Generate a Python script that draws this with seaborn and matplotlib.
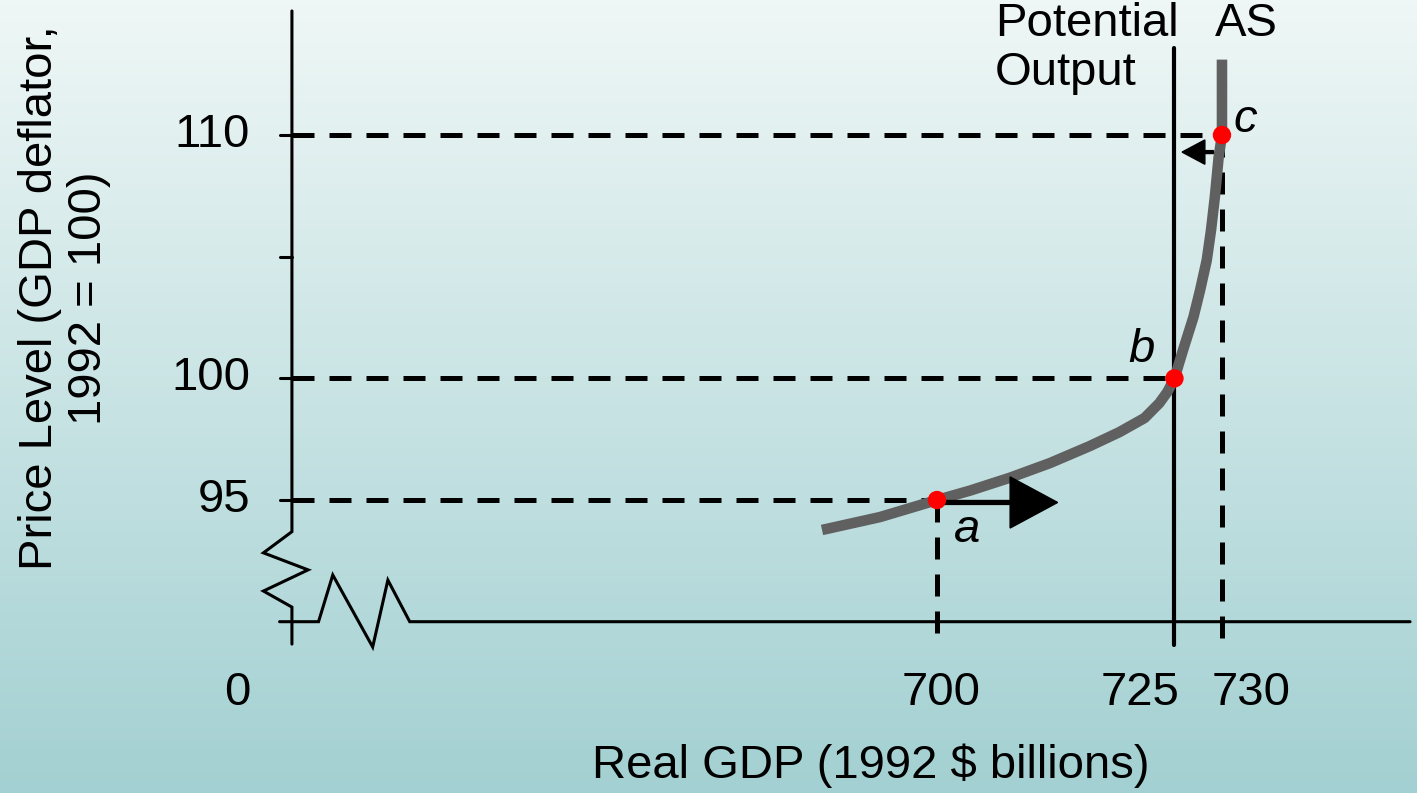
#!/usr/bin/env python3
# aggregate supply curve with points a, b, c

import numpy as np
import pandas as pd
import seaborn as sns
import matplotlib.pyplot as plt
from matplotlib.colors import LinearSegmentedColormap

# Data -------------------------------------------------------------------------

# AS curve (real GDP, price level)
as_gdp = [687.9, 694.0, 700.0, 703.5, 707.7, 711.9, 716.1, 719.2, 721.85,
          723.4, 724.25, 725.0, 725.9, 727.0, 727.7, 728.4, 728.85, 729.25,
          729.65, 730.0, 730.0]
as_price = [93.77, 94.30, 95.0, 95.39, 95.92, 96.52, 97.22, 97.79, 98.37,
            98.98, 99.44, 100.0, 101.16, 102.52, 103.63, 104.86, 106.10,
            107.45, 109.09, 110.0, 113.1]

point_names = ['a', 'b', 'c']
point_gdp = [700, 725, 730]
point_price = [95, 100, 110]

potential_gdp = 725
y_ticks = [95, 100, 110]
y_minor = [105]
x_ticks = [700, 725, 730]

# axis origin (broken axes)
x0 = 632.1
y0 = 90.0


def main():
    sns.set_theme(style='white')
    plt.rcParams['font.family'] = ['Liberation Sans', 'DejaVu Sans']
    plt.rcParams['text.color'] = 'black'

    fig = plt.figure(figsize=(14.17, 7.93), dpi=100)
    ax = fig.add_axes([0, 0, 1, 1])

    # background gradient
    cmap = LinearSegmentedColormap.from_list('bg', ['#a3d0d2', '#eff7f6'])
    grad = np.linspace(0, 1, 256).reshape(-1, 1)
    ax.imshow(grad, extent=[0, 1, 0, 1], transform=ax.transAxes,
              aspect='auto', cmap=cmap, origin='lower', zorder=0)

    # axes with break marks
    ax.plot([x0, x0, 629.1, 633.8, 629.1, x0, x0],
            [115.1, 93.7, 92.83, 92.13, 91.26, 90.6, 89.08],
            color='black', lw=2.2, zorder=3, solid_joinstyle='miter')
    ax.plot([630.8, 634.9, 636.4, 640.6, 642.2, 644.5, 749.8],
            [y0, y0, 91.92, 88.96, 91.71, y0, y0],
            color='black', lw=2.2, zorder=3, solid_joinstyle='miter')
    for t in y_ticks + y_minor:
        ax.plot([630.8, x0], [t, t], color='black', lw=2.2, zorder=3)

    # dashed guide lines
    dash = dict(color='black', lw=3.6, dashes=(4.4, 3.0), zorder=2)
    for gx, py in zip(point_gdp, point_price):
        ax.plot([x0, gx], [py, py], **dash)
    for gx, py in zip(point_gdp[::2], point_price[::2]):
        ax.plot([gx, gx], [py, 89.03], **dash)

    # potential output
    ax.plot([potential_gdp, potential_gdp], [113.57, 89.03],
            color='black', lw=3.0, zorder=4)

    # AS curve
    curve = pd.DataFrame({'gdp': as_gdp, 'price': as_price})
    sns.lineplot(data=curve, x='gdp', y='price', sort=False, estimator=None,
                 color='#606060', linewidth=7.6, ax=ax, zorder=5,
                 solid_capstyle='butt', solid_joinstyle='round')

    # arrows
    ax.arrow(700, 94.9, 12.7, 0, width=0.16, head_width=2.1, head_length=5.0,
             length_includes_head=True, color='black', zorder=6)
    ax.arrow(729.1, 109.3, -3.3, 0, width=0.12, head_width=1.0,
             head_length=2.4, length_includes_head=True, color='black',
             zorder=6)

    # points
    pts = pd.DataFrame({'gdp': point_gdp, 'price': point_price})
    sns.scatterplot(data=pts, x='gdp', y='price', color='#ff0000', s=175,
                    edgecolor='none', ax=ax, zorder=7)

    fs = 34
    for i, (dx, dy) in enumerate(((3.2, -1.24), (-3.5, 1.16), (2.5, 0.6))):
        ax.text(point_gdp[i] + dx, point_price[i] + dy, point_names[i],
                fontsize=fs, style='italic', ha='center', va='center',
                zorder=8)

    # tick labels
    for t in y_ticks:
        ax.text(627.7, t, str(t), fontsize=fs, ha='right', va='center')
    for t, off in zip(x_ticks, (0.4, -3.6, 3.1)):
        ax.text(t + off, 87.07, str(t), fontsize=fs, ha='center', va='center')
    ax.text(626.4, 87.07, '0', fontsize=fs, ha='center', va='center')

    ax.text(706.1, 115.45, 'Potential\nOutput', fontsize=fs, ha='left',
            va='top', linespacing=1.12)
    ax.text(729.3, 115.45, 'AS', fontsize=fs, ha='left', va='top')

    ax.text(693.0, 84.1, 'Real GDP (1992 $ billions)', fontsize=fs,
            ha='center', va='center')
    ax.text(608.2, 103.3, 'Price Level (GDP deflator,\n1992 = 100)',
            fontsize=fs, ha='center', va='center', rotation=90,
            multialignment='center', linespacing=1.15)

    ax.set_xlim(601.37, 750.53)
    ax.set_ylim(82.96, 115.55)
    ax.set_axis_off()
    fig.savefig('out.png', dpi=100)


if __name__ == '__main__':
    main()
